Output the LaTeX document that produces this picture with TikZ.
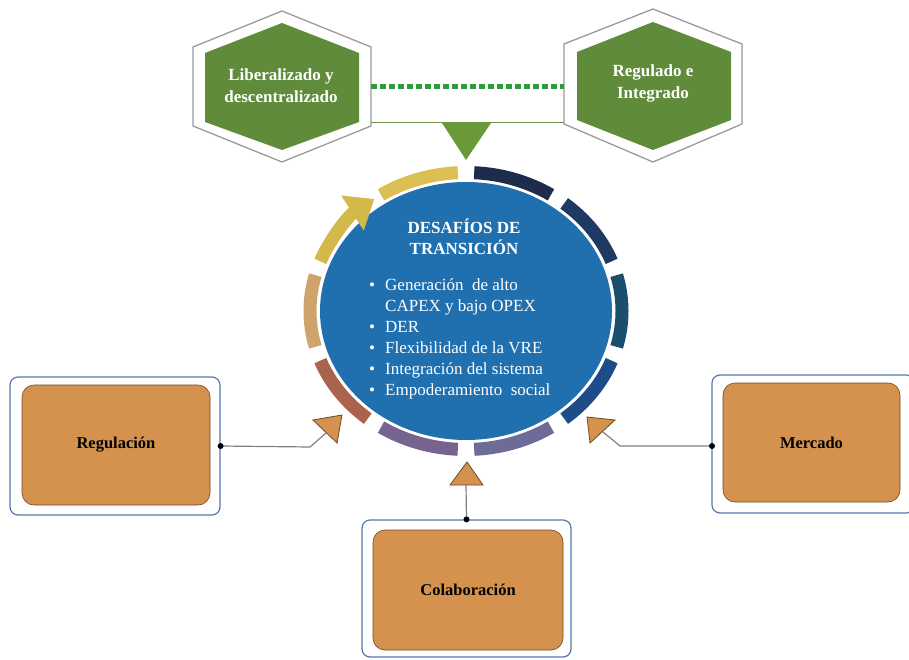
\documentclass[tikz,border=0pt]{standalone}
\usepackage{fontspec}
\setmainfont{Liberation Serif}
\usetikzlibrary{arrows.meta}
\definecolor{hexgreen}{HTML}{5F8B3B}
\definecolor{dashgreen}{HTML}{2F9A3A}
\definecolor{trigreen}{HTML}{6A9A38}
\definecolor{hexgray}{HTML}{9A9A9A}
\definecolor{boxblue}{HTML}{5679AD}
\definecolor{orangefill}{HTML}{D5924F}
\definecolor{orangeedge}{HTML}{6E4A26}
\definecolor{circblue}{HTML}{2070B0}
\definecolor{sA}{HTML}{1D2C4C}
\definecolor{sB}{HTML}{1F3A62}
\definecolor{sC}{HTML}{1B4F6D}
\definecolor{sD}{HTML}{1E4C88}
\definecolor{sE}{HTML}{6D6C99}
\definecolor{sF}{HTML}{76638F}
\definecolor{sG}{HTML}{A9634F}
\definecolor{sH}{HTML}{CFA36C}
\definecolor{sI}{HTML}{D3B84A}
\definecolor{sJ}{HTML}{DCBF52}
\definecolor{connGray}{HTML}{808080}
\tikzset{
  hexout/.style={draw=hexgray, line width=1.3pt, fill=white},
  hexin/.style={fill=hexgreen, draw=none},
  hextext/.style={text=white, font=\fontsize{17}{22}\selectfont\bfseries, align=center},
  ringseg/.style={line width=13pt},
  outbox/.style={draw=boxblue, line width=1.2pt, fill=white, rounded corners=8pt},
  inbox/.style={draw=orangeedge, line width=0.6pt, fill=orangefill, rounded corners=12pt,
    font=\fontsize{16.5}{20}\selectfont\bfseries, text=black},
  otri/.style={fill=orangefill, draw=orangeedge, line width=0.8pt},
  conn/.style={draw=connGray, line width=1.2pt},
  cdot/.style={circle, fill=black, inner sep=0pt, minimum size=6pt},
  ell/.style={x radius=156, y radius=138.5}
}
\begin{document}
\begin{tikzpicture}[x=1pt,y=-1pt]
\useasboundingbox (0,0) rectangle (909,660);

% ---------- hexagons ----------
\draw[hexout] (282,11) -- (371,47) -- (371,126) -- (282,162) -- (193,126) -- (193,47) -- cycle;
\fill[hexin] (282,23) -- (359,53) -- (359,122) -- (282,150) -- (205,122) -- (205,53) -- cycle;
\node[hextext] (lib) at (281,86) {Liberalizado y\\descentralizado};

\draw[hexout] (653,9) -- (742,44) -- (742,124) -- (653,162) -- (564,124) -- (564,44) -- cycle;
\fill[hexin] (653,22) -- (731,52) -- (731,120) -- (653,150) -- (577,120) -- (577,52) -- cycle;
\node[hextext] (regint) at (653,83) {Regulado e\\Integrado};

\coordinate (libE) at (371,87);
\coordinate (regW) at (564,87);
\coordinate (libB) at (371,123);
\coordinate (regB) at (564,123);
\draw[dashgreen, line width=5pt, dash pattern=on 6pt off 3pt] (libE) -- (regW);
\draw[trigreen!80!gray, line width=1pt] (libB) -- (regB);
\fill[trigreen] (442,123) -- (491,123) -- (466,160) -- cycle;

% ---------- central circle ----------
\coordinate (C) at (466,311);
\fill[circblue] (C) ellipse [x radius=146, y radius=129];

\draw[ringseg, sA] (C) ++(-87:156 and 138.5) arc[ell, start angle=-87, end angle=-57];
\draw[ringseg, sB] (C) ++(-51:156 and 138.5) arc[ell, start angle=-51, end angle=-21];
\draw[ringseg, sC] (C) ++(-15:156 and 138.5) arc[ell, start angle=-15, end angle=15];
\draw[ringseg, sD] (C) ++(21:156 and 138.5) arc[ell, start angle=21, end angle=51];
\draw[ringseg, sE] (C) ++(57:156 and 138.5) arc[ell, start angle=57, end angle=87];
\draw[ringseg, sF] (C) ++(93:156 and 138.5) arc[ell, start angle=93, end angle=123];
\draw[ringseg, sG] (C) ++(129:156 and 138.5) arc[ell, start angle=129, end angle=159];
\draw[ringseg, sH] (C) ++(165:156 and 138.5) arc[ell, start angle=165, end angle=195];
\draw[ringseg, sI, -{Triangle[length=26pt,width=40pt]}] (C) ++(201:156 and 138.5) arc[ell, start angle=201, end angle=234];
\draw[ringseg, sJ] (C) ++(237:156 and 138.5) arc[ell, start angle=237, end angle=267];

\node[text=white, font=\fontsize{17}{20.5}\selectfont\bfseries, align=center] (title) at (464,237) {DESAFÍOS DE\\TRANSICIÓN};
\node[text=white, font=\fontsize{17}{21}\selectfont, align=left, anchor=north west, inner sep=0pt] (list) at (369,278)
{\makebox[16pt][l]{\textbullet}Generación\ \ de alto\\
 \hspace*{16pt}CAPEX y bajo OPEX\\
 \makebox[16pt][l]{\textbullet}DER\\
 \makebox[16pt][l]{\textbullet}Flexibilidad de la VRE\\
 \makebox[16pt][l]{\textbullet}Integración del sistema\\
 \makebox[16pt][l]{\textbullet}Empoderamiento\ \ social};

% ---------- boxes ----------
\node[outbox, minimum width=210pt, minimum height=138pt] (regO) at (115,446) {};
\node[inbox, minimum width=188pt, minimum height=120pt] (reg) at (116,445) {Regulación};

\draw[outbox] (712,375) rectangle (914,513);
\coordinate (merW) at (712,446);
\node[inbox, minimum width=177pt, minimum height=119pt] (mer) at (811.5,442.5) {Mercado};

\node[outbox, minimum width=209pt, minimum height=137pt] (colO) at (466.5,588.5) {};
\node[inbox, minimum width=190pt, minimum height=120pt] (col) at (468,590) {Colaboración};

% ---------- orange triangles ----------
\draw[otri] (313,420) -- (342,415) -- (337,443) -- cycle;
\coordinate (t1) at (326,433);
\draw[otri] (587,417) -- (615,420) -- (590,443) -- cycle;
\coordinate (t2) at (603,432);
\draw[otri] (467,462) -- (450,485) -- (483,485) -- cycle;
\coordinate (t3) at (466,485);

% ---------- connectors ----------
\coordinate (k1) at (310,447);
\coordinate (k2) at (620,446);
\draw[conn] (regO.east) -- (k1) -- (t1);
\draw[conn] (merW) -- (k2) -- (t2);
\draw[conn] (colO.north) -- (t3);
\node[cdot] (d1) at (regO.east) {};
\node[cdot] (d2) at (merW) {};
\node[cdot] (d3) at (colO.north) {};
\end{tikzpicture}
\end{document}
